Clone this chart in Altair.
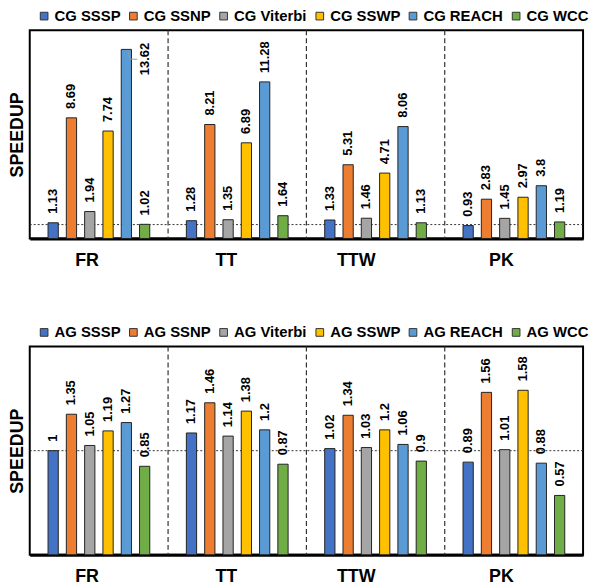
import altair as alt
import pandas as pd

FONT = "Liberation Sans"

groups = ["FR", "TT", "TTW", "PK"]
algorithms = ["SSSP", "SSNP", "Viterbi", "SSWP", "REACH", "WCC"]
colors = ["#4472C4", "#ED7D31", "#A5A5A5", "#FFC000", "#5B9BD5", "#70AD47"]

# CG speedups per graph (order: SSSP, SSNP, Viterbi, SSWP, REACH, WCC)
cg_fr = [1.13, 8.69, 1.94, 7.74, 13.62, 1.02]
cg_tt = [1.28, 8.21, 1.35, 6.89, 11.28, 1.64]
cg_ttw = [1.33, 5.31, 1.46, 4.71, 8.06, 1.13]
cg_pk = [0.93, 2.83, 1.45, 2.97, 3.8, 1.19]

# AG speedups per graph
ag_fr = [1, 1.35, 1.05, 1.19, 1.27, 0.85]
ag_tt = [1.17, 1.46, 1.14, 1.38, 1.2, 0.87]
ag_ttw = [1.02, 1.34, 1.03, 1.2, 1.06, 0.9]
ag_pk = [0.89, 1.56, 1.01, 1.58, 0.88, 0.57]

baseline = [1]

# leader-line glyph for the label that is moved beside its bar
LEADER = "M0.14,0.2 L0.36,0.9 L1,0.9"


def panel(prefix, rows, ymax, legend_x, callout_above):
    series = [f"{prefix} {a}" for a in algorithms]
    recs = []
    for g, vals in zip(groups, rows):
        for s, v in zip(series, vals):
            recs.append({"group": g, "series": s, "value": v, "label": f"{v:g}"})
    df = pd.DataFrame(recs)

    x = alt.X(
        "group:N", sort=groups,
        scale=alt.Scale(paddingInner=0, paddingOuter=0),
        axis=alt.Axis(title=None, labelFontSize=18, labelFontWeight="bold",
                      labelFont=FONT, labelColor="black", labelPadding=22,
                      ticks=False, tickSize=0, domainColor="black",
                      domainWidth=3, grid=False, labelAngle=0),
    )
    xo = alt.XOffset("series:N", sort=series,
                     scale=alt.Scale(paddingInner=0.44, paddingOuter=1))
    y = alt.Y(
        "value:Q",
        scale=alt.Scale(domain=[0, ymax], nice=False, zero=True),
        axis=alt.Axis(title="SPEEDUP", labels=False, ticks=False, grid=False,
                      domain=False, titleFontSize=18, titleFont=FONT,
                      titleFontWeight="bold", titleColor="black",
                      titlePadding=3),
    )
    color = alt.Color(
        "series:N", sort=series,
        scale=alt.Scale(domain=series, range=colors),
        legend=alt.Legend(orient="none", legendX=legend_x, legendY=-22,
                          direction="horizontal", columns=6, title=None,
                          symbolType="square", symbolSize=60,
                          symbolStrokeColor="#333", symbolStrokeWidth=1,
                          symbolOpacity=1,
                          labelFontSize=15, labelFontWeight="bold",
                          labelFont=FONT, labelColor="black",
                          columnPadding=5, labelOffset=3),
    )

    base = alt.Chart(df).encode(x=x, xOffset=xo, y=y)

    sep = alt.Chart(pd.DataFrame({"group": groups[1:]})).mark_rule(
        strokeDash=[5, 3], color="#333", strokeWidth=1.2
    ).encode(x=alt.X("group:N", sort=groups, bandPosition=0))

    ref = alt.Chart(pd.DataFrame({"ref": baseline})).mark_rule(
        strokeDash=[2, 2], color="#333", strokeWidth=1
    ).encode(y=alt.Y("ref:Q"))

    bars = base.mark_bar(stroke="#222", strokeWidth=1).encode(color=color)

    text_kw = dict(angle=270, align="left", baseline="middle", fontSize=13,
                   fontWeight="bold", font=FONT, color="black")
    if callout_above is not None:
        labels = base.transform_filter(alt.datum.value <= callout_above).mark_text(
            dx=9, **text_kw).encode(text="label:N")
        callout = base.transform_filter(alt.datum.value > callout_above).mark_text(
            dx=-26, dy=19, **text_kw).encode(text="label:N")
        leader = base.transform_filter(alt.datum.value > callout_above).mark_point(
            shape=LEADER, size=484, filled=False, stroke="#9a9a9a",
            strokeWidth=1, opacity=1)
        layers = [ref, sep, bars, labels, callout, leader]
    else:
        labels = base.mark_text(dx=9, **text_kw).encode(text="label:N")
        layers = [ref, sep, bars, labels]

    return alt.layer(*layers).properties(width=558, height=210)


top = panel("CG", [cg_fr, cg_tt, cg_ttw, cg_pk], 15, 7, 13)
bottom = panel("AG", [ag_fr, ag_tt, ag_ttw, ag_pk], 2, 7, None)

chart = alt.vconcat(top, bottom, spacing=54).resolve_scale(
    x="independent", y="independent", color="independent", xOffset="independent"
).properties(
    padding={"left": 8, "top": 5, "right": 0, "bottom": 0}
).configure_view(stroke="black", strokeWidth=2)

chart.save("out.html", embed_options={"renderer": "svg", "actions": False})
